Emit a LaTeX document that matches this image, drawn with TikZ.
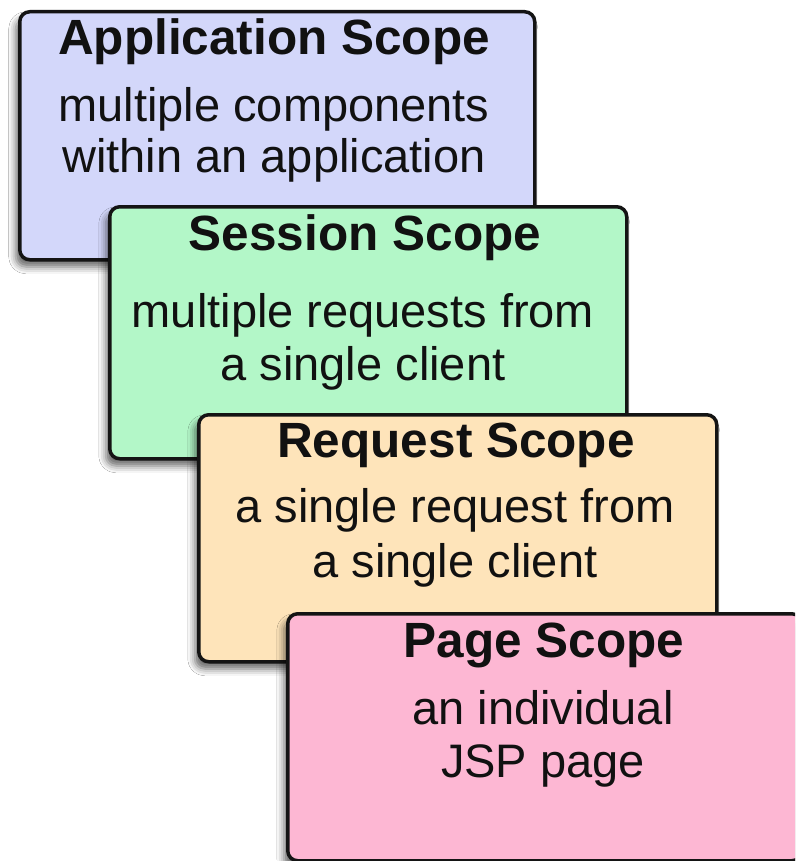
\documentclass[tikz,border=0pt]{standalone}
\usepackage{fontspec}
\setmainfont{Liberation Sans}
\usetikzlibrary{shadows.blur}
\definecolor{appfill}{HTML}{D3D7FA}
\definecolor{sesfill}{HTML}{B3F7C8}
\definecolor{reqfill}{HTML}{FEE4BA}
\definecolor{pagefill}{HTML}{FDB7D3}
\definecolor{edgec}{HTML}{141414}
\definecolor{textc}{HTML}{111111}
\begin{document}
\begin{tikzpicture}[x=1pt,y=-1pt,
  scopebox/.style={draw=edgec, line width=3.5pt, rounded corners=10pt, inner sep=0pt,
    anchor=north west,
    blur shadow={shadow xshift=-4pt, shadow yshift=-7pt, shadow blur radius=7pt, shadow opacity=60}},
  titletext/.style={anchor=base, font=\fontsize{49.5}{55}\selectfont\bfseries, text=textc, inner sep=0pt},
  bodytext/.style={anchor=base, font=\fontsize{47}{52}\selectfont, text=textc, inner sep=0pt}]
\useasboundingbox (0,0) rectangle (795,861);
\clip (0,0) rectangle (795,861);
\fill[white] (0,0) rectangle (795,861);
% Application
\node[scopebox, fill=appfill, minimum width=515pt, minimum height=248pt] (app) at (18,10) {};
\node[titletext] (appt) at (274,55) {Application Scope};
\node[bodytext] (appa) at (274,122) {multiple components};
\node[bodytext] (appb) at (274,173) {within an application};
% Session
\node[scopebox, fill=sesfill, minimum width=517pt, minimum height=252pt] (ses) at (108,205) {};
\node[titletext] (sest) at (365,250) {Session Scope};
\node[bodytext] (sesa) at (363,327) {multiple requests from};
\node[bodytext] (sesb) at (363,380) {a single client};
% Request
\node[scopebox, fill=reqfill, minimum width=518pt, minimum height=247pt] (req) at (197,413) {};
\node[titletext] (reqt) at (456,457) {Request Scope};
\node[bodytext] (reqa) at (455,522) {a single request from};
\node[bodytext] (reqb) at (455,577) {a single client};
% Page
\node[scopebox, fill=pagefill, minimum width=514pt, minimum height=247pt] (page) at (286,612) {};
\node[titletext] (paget) at (544,657) {Page Scope};
\node[bodytext] (pagea) at (543,724) {an individual};
\node[bodytext] (pageb) at (543,777) {JSP page};
\end{tikzpicture}
\end{document}
